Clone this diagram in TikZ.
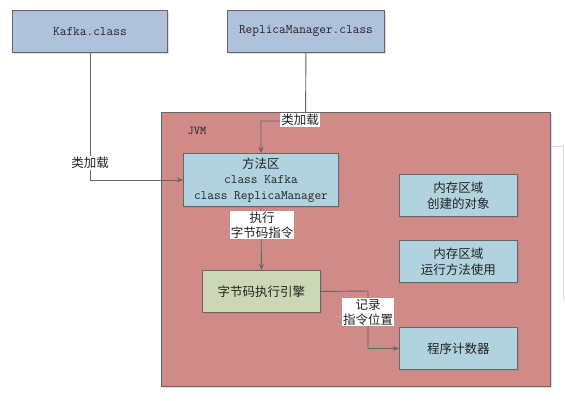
\documentclass[tikz,border=0pt]{standalone}
\usepackage{fontspec}
\setmainfont{Noto Sans CJK SC}
\newfontfamily\cjk{Noto Sans CJK SC}
\usetikzlibrary{arrows.meta,shadows}
\definecolor{topfill}{HTML}{B0C1DB}
\definecolor{jvmfill}{HTML}{D08A88}
\definecolor{bluefill}{HTML}{B0D3DF}
\definecolor{greenfill}{HTML}{CCD8B5}
\definecolor{edgegray}{HTML}{666666}
\definecolor{txt}{HTML}{222222}
\begin{document}
\begin{tikzpicture}[x=1pt,y=-1pt,
  box/.style={draw=edgegray,line width=0.9pt,anchor=north west,inner sep=0pt,align=center,text=txt,
    drop shadow={shadow xshift=1.5pt,shadow yshift=-1.5pt,opacity=0.25,fill=gray}},
  mono/.style={font=\ttfamily\fontsize{13}{16}\selectfont},
  zh/.style={font=\cjk\fontsize{12.5}{16}\selectfont},
  conn/.style={draw=edgegray,line width=0.9pt,-{Stealth[length=6pt,width=5pt]}},
  lbl/.style={fill=white,inner sep=0.8pt,align=center,text=txt,font=\cjk\fontsize{12.5}{15}\selectfont}]
\useasboundingbox (0,0) rectangle (565,400);
\fill[white] (0,0) rectangle (565,400);
\draw[gray!30,line width=0.8pt] (552,146) -- (563,146) -- (563,300);
\node[box,fill=topfill,minimum width=155pt,minimum height=42pt,mono] (kafka) at (12,10) {Kafka.class};
\node[box,fill=topfill,minimum width=157pt,minimum height=42pt,mono] (replica) at (227,10) {ReplicaManager.class};
\node[box,fill=jvmfill,minimum width=389pt,minimum height=274pt] (jvm) at (161,112) {};
\node[text=txt,font=\ttfamily\fontsize{12}{13}\selectfont] (jvmlbl) at (197,131) {JVM};
\node[box,fill=bluefill,minimum width=155pt,minimum height=53pt,font=\ttfamily\fontsize{13}{15.5}\selectfont] (method) at (183,153)
  {{\cjk\fontsize{12.5}{15.5}\selectfont 方法区}\\class Kafka\\class ReplicaManager};
\node[box,fill=greenfill,minimum width=118pt,minimum height=42pt,zh] (engine) at (202,270) {字节码执行引擎};
\node[box,fill=bluefill,minimum width=118pt,minimum height=42pt,zh] (obj) at (399,174) {内存区域\\创建的对象};
\node[box,fill=bluefill,minimum width=118pt,minimum height=42pt,zh] (run) at (399,240) {内存区域\\运行方法使用};
\node[box,fill=bluefill,minimum width=118pt,minimum height=42pt,zh] (counter) at (399,327) {程序计数器};
\coordinate (c1) at (305.5,121);
\coordinate (c2) at (368,291);
\draw[conn] (kafka.south) |- (method.west);
\draw[conn] (replica.south) -- (c1) -| (method.north);
\draw[conn] (method.south) -- (engine.north);
\draw[conn] (engine.east) -- (c2) |- (counter.west);
\node[lbl] (l1) at (90,163) {类加载};
\node[lbl] (l2) at (300,120) {类加载};
\node[lbl] (l3) at (262,225) {执行\\字节码指令};
\node[lbl] (l4) at (368,312) {记录\\指令位置};
\end{tikzpicture}
\end{document}
